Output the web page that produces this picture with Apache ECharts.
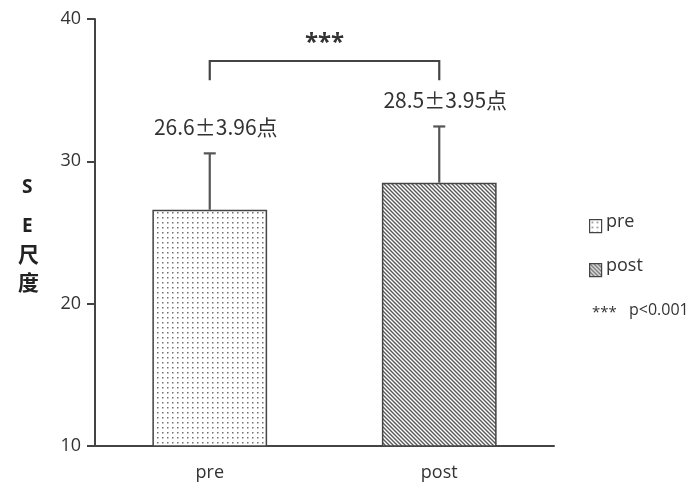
<!DOCTYPE html>
<html>
<head>
<meta charset="utf-8">
<script src="https://cdn.jsdelivr.net/npm/echarts@6/dist/echarts.min.js"></script>
<style>html,body{margin:0;padding:0;background:#fff}#c{width:694px;height:488px}</style>
</head>
<body>
<div id="c"></div>
<script>
// ---- data ----
var categories = ['pre', 'post'];
var means = [26.6, 28.5];
var sds = [3.96, 3.95];
var meanLabels = ['26.6±3.96点', '28.5±3.95点'];
var yTicks = { min: 10, max: 40, interval: 10 };
var bracketLevel = 37.05;   // top of significance bracket
var bracketLegEnd = 35.7;   // bottom of bracket legs
var starsLevel = 38.5;
var sigText = '***';
var legendNames = ['pre', 'post'];
var noteText = ['***', 'p<0.001'];

var FONT = '"Open Sans","Noto Sans CJK SC",sans-serif';
var CJK = '"Noto Sans CJK SC",sans-serif';

function dotPattern() {
  var c = document.createElement('canvas');
  c.width = 5; c.height = 5;
  var g = c.getContext('2d');
  g.fillStyle = '#fff'; g.fillRect(0, 0, 5, 5);
  g.fillStyle = '#707070'; g.fillRect(2, 2, 1.5, 1.5);
  return c;
}
function hatchPattern() {
  var c = document.createElement('canvas');
  c.width = 4; c.height = 4;
  var g = c.getContext('2d');
  g.fillStyle = '#fff'; g.fillRect(0, 0, 4, 4);
  g.strokeStyle = '#5a5a5a'; g.lineWidth = 1.4;
  g.beginPath();
  g.moveTo(-1, -1); g.lineTo(5, 5);
  g.moveTo(-1, 3); g.lineTo(1, 5);
  g.moveTo(3, -1); g.lineTo(5, 1);
  g.stroke();
  return c;
}
var patterns = [
  { image: dotPattern(), repeat: 'repeat' },
  { image: hatchPattern(), repeat: 'repeat' }
];

var chart = echarts.init(document.getElementById('c'));

var barData = means.map(function (v, i) {
  return {
    value: v,
    itemStyle: { color: patterns[i], borderColor: '#444', borderWidth: 1.5 },
    label: { formatter: meanLabels[i] }
  };
});

var errData = means.map(function (v, i) { return [i, v, v + sds[i]]; });

var option = {
  animation: false,
  backgroundColor: '#fff',
  grid: { left: 95, right: 140, top: 19, bottom: 42 },
  xAxis: {
    type: 'category',
    data: categories,
    axisLine: { lineStyle: { color: '#444', width: 2 } },
    axisTick: { show: false },
    axisLabel: { color: '#333', fontSize: 18, fontFamily: FONT, margin: 18 }
  },
  yAxis: {
    type: 'value',
    min: yTicks.min, max: yTicks.max, interval: yTicks.interval,
    splitLine: { show: false },
    axisLine: { show: true, lineStyle: { color: '#444', width: 2 } },
    axisTick: { show: true, length: 8, lineStyle: { color: '#444', width: 2 } },
    axisLabel: { color: '#333', fontSize: 18, fontFamily: FONT, margin: 14 }
  },
  series: [
    {
      type: 'bar',
      data: barData,
      barWidth: '50%',
      label: {
        show: true, position: 'top', distance: 72, offset: [6, 0],
        color: '#333', fontSize: 21, fontFamily: CJK
      },
      z: 2
    },
    {
      type: 'custom',
      data: errData,
      z: 3,
      renderItem: function (params, api) {
        var lo = api.coord([api.value(0), api.value(1)]);
        var hi = api.coord([api.value(0), api.value(2)]);
        var s = { stroke: '#555', lineWidth: 2.2 };
        return {
          type: 'group',
          children: [
            { type: 'line', shape: { x1: lo[0], y1: lo[1], x2: hi[0], y2: hi[1] }, style: s },
            { type: 'line', shape: { x1: hi[0] - 6, y1: hi[1], x2: hi[0] + 6, y2: hi[1] }, style: s }
          ]
        };
      }
    },
    {
      type: 'custom',
      data: [[0, 1, bracketLevel, bracketLegEnd, starsLevel]],
      z: 3,
      renderItem: function (params, api) {
        var a = api.coord([api.value(0), api.value(3)]);
        var b = api.coord([api.value(0), api.value(2)]);
        var c = api.coord([api.value(1), api.value(2)]);
        var d = api.coord([api.value(1), api.value(3)]);
        var sy = api.coord([api.value(0), api.value(4)])[1];
        var sx = (b[0] + c[0]) / 2;
        return {
          type: 'group',
          children: [
            { type: 'polyline', shape: { points: [a, b, c, d] }, style: { stroke: '#444', lineWidth: 2.2, fill: null } },
            { type: 'text', x: sx, y: sy + 3, style: { text: sigText, fill: '#333', font: 'bold 24px ' + FONT, textAlign: 'center', textVerticalAlign: 'middle' } }
          ]
        };
      }
    }
  ],
  graphic: [
    { type: 'text', left: 22, top: 178, style: { text: 'S', fill: '#222', font: 'bold 19px ' + FONT } },
    { type: 'text', left: 22, top: 217, style: { text: 'E', fill: '#222', font: 'bold 19px ' + FONT } },
    { type: 'text', left: 18, top: 244, style: { text: '尺', fill: '#222', font: 'bold 21px ' + CJK } },
    { type: 'text', left: 18, top: 272, style: { text: '度', fill: '#222', font: 'bold 21px ' + CJK } },
    { type: 'rect', left: 589, top: 219, shape: { width: 12, height: 13 }, style: { fill: patterns[0], stroke: '#444', lineWidth: 1.2 } },
    { type: 'text', left: 606, top: 213, style: { text: legendNames[0], fill: '#333', font: '18px ' + FONT } },
    { type: 'rect', left: 589, top: 263, shape: { width: 12, height: 13 }, style: { fill: patterns[1], stroke: '#444', lineWidth: 1.2 } },
    { type: 'text', left: 606, top: 257, style: { text: legendNames[1], fill: '#333', font: '18px ' + FONT } },
    { type: 'text', left: 592, top: 305, style: { text: noteText[0], fill: '#333', font: '15px ' + FONT } },
    { type: 'text', left: 629, top: 302, style: { text: noteText[1], fill: '#333', font: '16px ' + FONT } }
  ]
};
chart.setOption(option);
</script>
</body>
</html>
